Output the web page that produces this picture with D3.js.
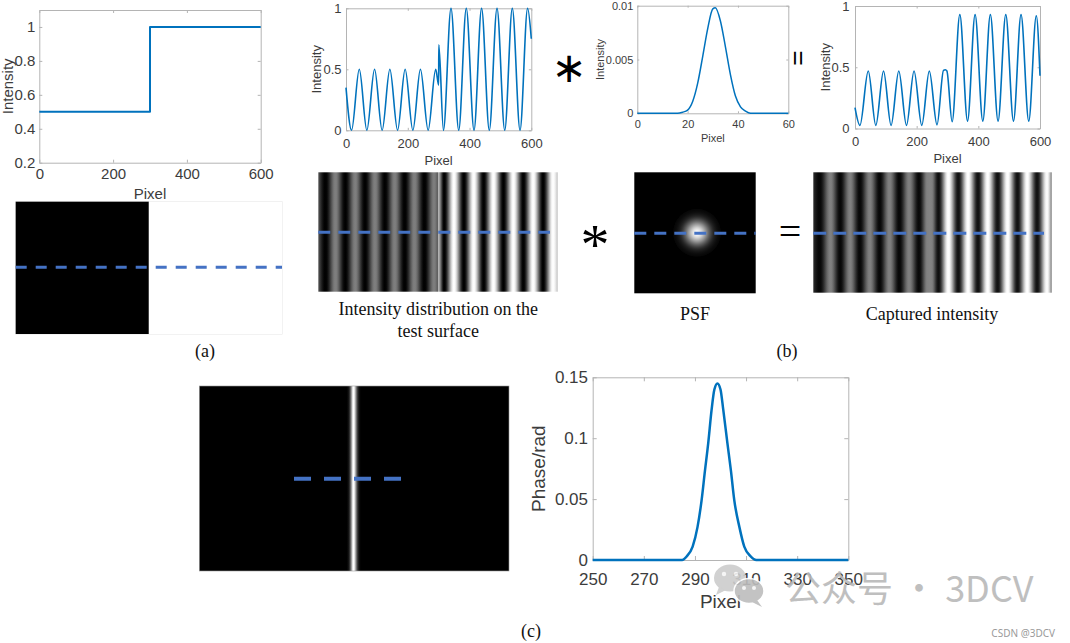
<!DOCTYPE html>
<html><head><meta charset="utf-8">
<script src="https://cdn.jsdelivr.net/npm/d3@7"></script>
<style>body{margin:0;background:#fff}svg{display:block}</style>
</head><body>
<script>
// ---------------- data ----------------
const stepPixel = [0, 300, 600];
const stepIntensity = [0.5, 1, 1];

const surfPixel = [0, 18, 43, 67.5, 92.5, 117, 142, 167, 191.5, 216.5, 241, 266, 290.5, 300, 300.5, 315.5, 340, 365, 389.5, 414.5, 439, 464, 489, 514, 538.5, 563.5, 588, 600];
const surfIntensity = [0.35, 0, 0.5, 0, 0.5, 0, 0.5, 0, 0.5, 0, 0.5, 0, 0.5, 0.37, 0.70, 0, 1, 0, 1, 0, 1, 0, 1, 0, 1, 0, 1, 0.75];

const psfPixel = [0, 16, 18, 20, 22, 24, 26, 28, 30, 31, 33, 35, 37, 39, 41, 43, 45, 60];
const psfIntensity = [0, 0, 0.0001, 0.0003, 0.0011, 0.0028, 0.0053, 0.0079, 0.0097, 0.0098, 0.0086, 0.0062, 0.0036, 0.0016, 0.0006, 0.0002, 0, 0];

const capPixel = [0, 16, 43, 67.5, 92.5, 117, 142, 167, 191.5, 216.5, 241, 266, 287, 293, 298, 315, 340, 365, 389.5, 414.5, 439, 464, 489, 514, 538.5, 563.5, 588, 600];
const capIntensity = [0.17, 0.025, 0.47, 0.025, 0.47, 0.025, 0.47, 0.025, 0.47, 0.025, 0.47, 0.03, 0.475, 0.48, 0.47, 0.055, 0.93, 0.06, 0.93, 0.06, 0.93, 0.06, 0.93, 0.06, 0.93, 0.06, 0.92, 0.43];

const phasePixel = [250, 285, 286.8, 289.1, 291, 292.6, 293.9, 295.2, 296.5, 297.6, 298.8, 300, 301.1, 302.7, 304.1, 305.4, 307.4, 309.3, 311.8, 314, 350];
const phaseRad = [0, 0, 0.003, 0.011, 0.027, 0.049, 0.073, 0.096, 0.123, 0.140, 0.145, 0.140, 0.123, 0.096, 0.073, 0.049, 0.027, 0.011, 0.003, 0, 0];

const ticksPixel600 = [0, 200, 400, 600];
const ticksStepY = [0.2, 0.4, 0.6, 0.8, 1];
const ticksHalf = [0, 0.5, 1];
const ticksPsfX = [0, 20, 40, 60];
const ticksPsfY = [0, 0.005, 0.01];
const ticksPhaseX = [250, 270, 290, 310, 330, 350];
const ticksPhaseY = [0, 0.05, 0.1, 0.15];

const captionSurface = ["Intensity distribution on the", "test surface"];
const captionPsf = "PSF";
const captionCaptured = "Captured intensity";
const panelLabels = ["(a)", "(b)", "(c)"];

// ---------------- styles ----------------
const SANS = "'Liberation Sans', Arial, Helvetica, sans-serif";
const SERIF = "'Liberation Serif', 'Times New Roman', serif";
const BOX = "#b4b4b4", TXT = "#3c3c3c", LINE = "#0072BD", DASH = "#4472C4";

const svg = d3.select("body").append("svg").attr("width", 1070).attr("height", 643);
const defs = svg.append("defs");

function plot(o) {
  const x = d3.scaleLinear().domain(o.xd).range([o.L, o.R]);
  const y = d3.scaleLinear().domain(o.yd).range([o.B, o.T]);
  const g = svg.append("g");
  const fmt = d3.format("~g");
  const st = sel => {
    sel.attr("font-size", o.fs).attr("font-family", SANS);
    sel.select(".domain").attr("stroke", BOX);
    sel.selectAll(".tick line").attr("stroke", BOX);
    sel.selectAll(".tick text").attr("fill", TXT);
  };
  g.append("g").attr("transform", `translate(0,${o.B})`)
    .call(d3.axisBottom(x).tickValues(o.xt).tickFormat(fmt).tickSizeInner(-o.tk).tickSizeOuter(0).tickPadding(o.xpad)).call(st);
  g.append("g").attr("transform", `translate(0,${o.T})`)
    .call(d3.axisTop(x).tickValues(o.xt).tickFormat("").tickSizeInner(-o.tk).tickSizeOuter(0)).call(st);
  g.append("g").attr("transform", `translate(${o.L},0)`)
    .call(d3.axisLeft(y).tickValues(o.yt).tickFormat(fmt).tickSizeInner(-o.tk).tickSizeOuter(0).tickPadding(o.ypad)).call(st);
  g.append("g").attr("transform", `translate(${o.R},0)`)
    .call(d3.axisRight(y).tickValues(o.yt).tickFormat("").tickSizeInner(-o.tk).tickSizeOuter(0)).call(st);
  const path = g.append("path").datum(d3.zip(o.px, o.py))
    .attr("fill", "none").attr("stroke", LINE).attr("stroke-width", o.lw)
    .attr("stroke-linejoin", "round")
    .attr("d", d3.line().x(d => x(d[0])).y(d => y(d[1])).curve(o.curve));
  g.append("text").attr("x", (o.L + o.R) / 2).attr("y", o.xlabY).attr("text-anchor", "middle")
    .attr("font-family", SANS).attr("font-size", o.lfs).attr("fill", TXT).text(o.xlab);
  g.append("text").attr("transform", `translate(${o.ylabX},${(o.T + o.B) / 2}) rotate(-90)`)
    .attr("dy", "0.35em").attr("text-anchor", "middle")
    .attr("font-family", SANS).attr("font-size", o.lfs).attr("fill", TXT).text(o.ylab);
  return { x, y, path: path.node() };
}

function sample(p, n) {
  const len = p.path.getTotalLength(), out = [];
  for (let i = 0; i <= n; i++) {
    const q = p.path.getPointAtLength(len * i / n);
    out.push([p.x.invert(q.x), p.y.invert(q.y)]);
  }
  return out;
}

function stripeGradient(id, samples, imgX, gray) {
  const [l, r] = imgX.range();
  const gr = defs.append("linearGradient").attr("id", id).attr("gradientUnits", "userSpaceOnUse")
    .attr("x1", l).attr("x2", r).attr("y1", 0).attr("y2", 0);
  let last = 0;
  samples.forEach(([px, v]) => {
    let off = Math.max(last, Math.min(1, (imgX(px) - l) / (r - l)));
    last = off;
    gr.append("stop").attr("offset", off).attr("stop-color", gray(v));
  });
}

function dashLine(x1, x2, y, dash, w) {
  svg.append("line").attr("x1", x1).attr("x2", x2).attr("y1", y).attr("y2", y)
    .attr("stroke", DASH).attr("stroke-width", w).attr("stroke-dasharray", dash);
}

// ---------------- (a) ----------------
const pA = plot({ L: 39.3, R: 260.7, T: 10, B: 162.7, xd: [0, 600], yd: [0.2, 1.1], xt: ticksPixel600, yt: ticksStepY,
  fs: 15, lfs: 15, tk: 3, xpad: 6, ypad: 4, px: stepPixel, py: stepIntensity, curve: d3.curveStepAfter, lw: 2,
  xlab: "Pixel", ylab: "Intensity", xlabY: 199, ylabX: 8 });

const imgA = d3.scaleLinear().domain([0, 600]).range([15.7, 282]);
const grayA = d3.scaleLinear().domain([0.5, 1]).range(["#000", "#fff"]);
svg.append("rect").attr("x", imgA(0)).attr("y", 201.7).attr("width", imgA(600) - imgA(0)).attr("height", 132.3)
  .attr("fill", "#fff").attr("stroke", "#e6e6e6");
for (let i = 0; i < stepPixel.length - 1; i++) {
  svg.append("rect").attr("x", imgA(stepPixel[i])).attr("y", 201.7)
    .attr("width", imgA(stepPixel[i + 1]) - imgA(stepPixel[i])).attr("height", 132.3)
    .attr("fill", grayA(stepIntensity[i]));
}
dashLine(15.7, 282, 267.3, "11,9", 3);

// ---------------- (b) plots ----------------
const pB1 = plot({ L: 346, R: 531.3, T: 8.3, B: 130.3, xd: [0, 600], yd: [0, 1], xt: ticksPixel600, yt: ticksHalf,
  fs: 13, lfs: 13, tk: 2.5, xpad: 8, ypad: 4.5, px: surfPixel, py: surfIntensity, curve: d3.curveMonotoneX, lw: 1.6,
  xlab: "Pixel", ylab: "Intensity", xlabY: 165, ylabX: 316.7 });

const pPsf = plot({ L: 637.3, R: 788.3, T: 5.7, B: 113.3, xd: [0, 60], yd: [0, 0.01], xt: ticksPsfX, yt: ticksPsfY,
  fs: 11, lfs: 11, tk: 2, xpad: 7, ypad: 4, px: psfPixel, py: psfIntensity, curve: d3.curveMonotoneX, lw: 1.5,
  xlab: "Pixel", ylab: "Intensity", xlabY: 142, ylabX: 600 });

const pB3 = plot({ L: 855, R: 1040, T: 6, B: 128.5, xd: [0, 600], yd: [0, 1], xt: ticksPixel600, yt: ticksHalf,
  fs: 13, lfs: 13, tk: 2.5, xpad: 8, ypad: 5.5, px: capPixel, py: capIntensity, curve: d3.curveMonotoneX, lw: 1.6,
  xlab: "Pixel", ylab: "Intensity", xlabY: 163, ylabX: 825.7 });

// operators in the plot row
svg.append("text").attr("x", 569).attr("y", 67).attr("dy", "0.35em").attr("text-anchor", "middle")
  .attr("font-family", "'DejaVu Sans', sans-serif").attr("font-size", 42).attr("fill", "#000").text("∗");
svg.append("text").attr("transform", "translate(799,58) rotate(90)").attr("dy", "0.33em").attr("text-anchor", "middle")
  .attr("font-family", SANS).attr("font-size", 26).attr("fill", "#000").text("=");

// ---------------- (b) images ----------------
const imgB1 = d3.scaleLinear().domain([0, 600]).range([318.3, 557.7]);
stripeGradient("gB1", sample(pB1, 900), imgB1, d3.scaleLinear().domain([0, 1]).range(["#000", "#fff"]).clamp(true));
svg.append("rect").attr("x", 318.3).attr("y", 172.3).attr("width", 239.4).attr("height", 119.4).attr("fill", "url(#gB1)");
dashLine(318.3, 550, 232.3, "12,8", 3);

const imgPsf = d3.scaleLinear().domain([0, 60]).range([634.3, 755.7]);
const psfSamples = sample(pPsf, 600);
const psfMax = d3.max(psfIntensity);
const psfPeak = psfPixel[d3.maxIndex(psfIntensity)];
const psfR = 24;
const rg = defs.append("radialGradient").attr("id", "gPsf").attr("gradientUnits", "userSpaceOnUse")
  .attr("cx", imgPsf(psfPeak)).attr("cy", 232.8).attr("r", psfR);
let lastOff = 0;
psfSamples.filter(d => d[0] >= psfPeak).forEach(([px, v]) => {
  let off = Math.max(lastOff, Math.min(1, (imgPsf(px) - imgPsf(psfPeak)) / psfR));
  lastOff = off;
  rg.append("stop").attr("offset", off).attr("stop-color", "#fff")
    .attr("stop-opacity", Math.max(0, Math.min(1, v / psfMax)));
});
svg.append("rect").attr("x", 634.3).attr("y", 172.3).attr("width", 121.4).attr("height", 121).attr("fill", "#000");
svg.append("circle").attr("cx", imgPsf(psfPeak)).attr("cy", 232.8).attr("r", psfR).attr("fill", "url(#gPsf)");
dashLine(634.3, 755.7, 233.3, "12,8", 3);

const imgB3 = d3.scaleLinear().domain([0, 600]).range([813.3, 1051.7]);
stripeGradient("gB3", sample(pB3, 900), imgB3, d3.scaleLinear().domain([0, d3.max(capIntensity)]).range(["#000", "#fff"]).clamp(true));
svg.append("rect").attr("x", 813.3).attr("y", 172.3).attr("width", 238.4).attr("height", 120.4).attr("fill", "url(#gB3)");
dashLine(813.3, 1044, 233.3, "13,7", 3);

// operators in the image row
svg.append("text").attr("x", 595).attr("y", 238).attr("dy", "0.445em").attr("text-anchor", "middle")
  .attr("font-family", SERIF).attr("font-size", 58).attr("fill", "#000").text("*");
svg.append("text").attr("x", 790).attr("y", 233).attr("dy", "0.3em").attr("text-anchor", "middle")
  .attr("font-family", SERIF).attr("font-size", 40).attr("fill", "#000").text("=");

// captions
const cap = (x, y, t, fs) => svg.append("text").attr("x", x).attr("y", y).attr("text-anchor", "middle")
  .attr("font-family", SERIF).attr("font-size", fs || 18).attr("fill", "#111").text(t);
cap(438.3, 315, captionSurface[0]);
cap(438.3, 336.5, captionSurface[1]);
cap(695, 319.5, captionPsf);
cap(932, 319.5, captionCaptured);
cap(205, 357, panelLabels[0]);
cap(787, 357, panelLabels[1]);
cap(531, 637, panelLabels[2]);

// ---------------- (c) ----------------
const pC = plot({ L: 592.7, R: 848.3, T: 377.3, B: 560, xd: [250, 350], yd: [0, 0.15], xt: ticksPhaseX, yt: ticksPhaseY,
  fs: 17, lfs: 19, tk: 4, xpad: 13, ypad: 4.7, px: phasePixel, py: phaseRad, curve: d3.curveMonotoneX, lw: 2.5,
  xlab: "Pixel", ylab: "Phase/rad", xlabY: 608, ylabX: 538.3 });

const imgC = d3.scaleLinear().domain([0, 600]).range([199.3, 509]);
stripeGradient("gC", sample(pC, 600), imgC, d3.scaleLinear().domain([0, d3.max(phaseRad)]).range(["#000", "#fff"]).clamp(true));
svg.append("rect").attr("x", 199.3).attr("y", 386).attr("width", 309.7).attr("height", 185)
  .attr("fill", "url(#gC)").attr("stroke", "#9a9a9a").attr("stroke-width", 0.6);
dashLine(294, 402, 478.7, "17,13", 4);

// ---------------- watermark ----------------
const wm = svg.append("g").attr("opacity", 0.9);
wm.append("ellipse").attr("cx", 730).attr("cy", 578).attr("rx", 16).attr("ry", 13.5).attr("fill", "#cdcdcd");
wm.append("path").attr("d", "M719,587 L716,595 L726,590 Z").attr("fill", "#cdcdcd");
wm.append("circle").attr("cx", 724).attr("cy", 574).attr("r", 2.2).attr("fill", "#f5f5f5");
wm.append("circle").attr("cx", 736).attr("cy", 574).attr("r", 2.2).attr("fill", "#f5f5f5");
wm.append("ellipse").attr("cx", 749).attr("cy", 591).attr("rx", 15).attr("ry", 12.5).attr("fill", "#bdbdbd")
  .attr("stroke", "#fff").attr("stroke-width", 1.5);
wm.append("path").attr("d", "M757,600 L762,607 L752,602 Z").attr("fill", "#bdbdbd");
wm.append("circle").attr("cx", 744).attr("cy", 588).attr("r", 2).attr("fill", "#f5f5f5");
wm.append("circle").attr("cx", 754).attr("cy", 588).attr("r", 2).attr("fill", "#f5f5f5");
wm.append("text").attr("x", 785).attr("y", 602).attr("font-family", "'Noto Sans CJK SC', 'Noto Sans', sans-serif")
  .attr("font-size", 36).attr("fill", "#b9b9b9").text("公众号 · 3DCV");
svg.append("text").attr("x", 1055).attr("y", 637).attr("text-anchor", "end")
  .attr("font-family", "'Noto Sans', sans-serif").attr("font-size", 10).attr("fill", "#9a9a9a").text("CSDN @3DCV");
</script>
</body></html>
